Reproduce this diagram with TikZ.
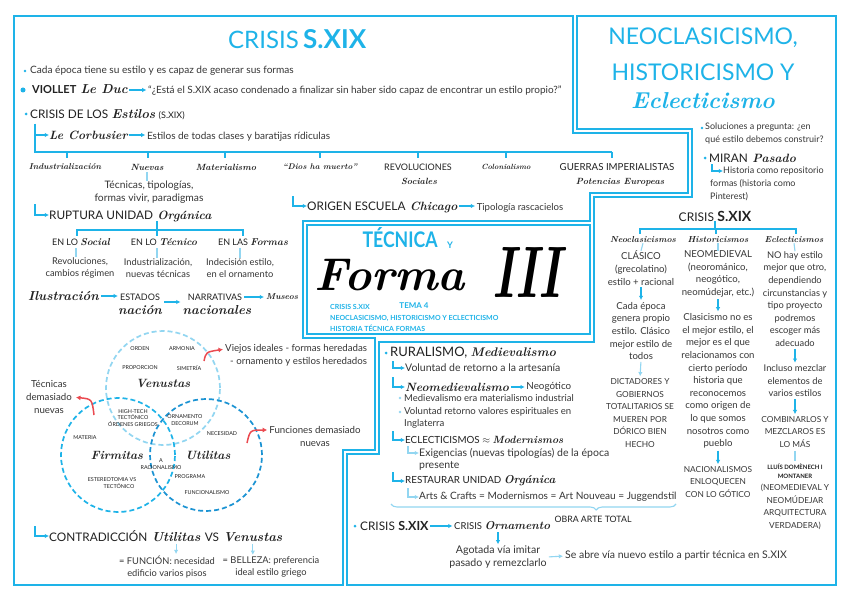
\documentclass[tikz,border=0pt]{standalone}
\usepackage{fontspec}
\usepackage{graphicx}
\usetikzlibrary{arrows.meta,decorations.pathreplacing,calc}
\newfontfamily\bodyf{Lato}
\newcommand\scrf{\rmfamily\bfseries\itshape}
\definecolor{cyanA}{HTML}{1EB3E8}
\definecolor{cyanL}{HTML}{92D6F1}
\definecolor{cyanD}{HTML}{1B93D3}
\definecolor{ink}{HTML}{222222}
\definecolor{gry}{HTML}{363636}
\definecolor{redA}{HTML}{EB4A50}
\tikzset{
 frm/.style={draw=cyanA,line width=1.8pt,line join=miter},
 bt/.style={font=\bodyf\fontsize{9.3}{12.4}\selectfont,text=gry,inner sep=0pt},
 bb/.style={bt,font=\bodyf\fontsize{10.3}{12.4}\selectfont},
 ct/.style={bt,align=center,font=\bodyf\fontsize{9.6}{12.6}\selectfont},
 cct/.style={bt,align=center,font=\bodyf\fontsize{8.3}{12.6}\selectfont},
 cp/.style={font=\bodyf\fontsize{11.8}{13}\selectfont,text=ink,inner sep=0pt},
 cps/.style={font=\bodyf\fontsize{9}{12.4}\selectfont,text=ink,inner sep=0pt},
 sr/.style={font=\scrf\fontsize{12}{13}\selectfont,text=ink,inner sep=0pt},
 srs/.style={font=\scrf\fontsize{9}{10}\selectfont,text=ink,inner sep=0pt},
 ar/.style={draw=cyanA,line width=1.1pt,-{Latex[length=4.2pt,width=4.4pt]}},
 arl/.style={draw=cyanL,line width=1.1pt,-{Latex[length=4.2pt,width=4.4pt]}},
 ln/.style={draw=cyanA,line width=1.3pt},
 lnl/.style={draw=cyanL,line width=1.1pt},
 bu/.style={circle,fill=cyanA,inner sep=0pt,minimum size=3pt},
 bul/.style={circle,fill=cyanL,inner sep=0pt,minimum size=2.6pt},
 vt/.style={font=\bodyf\fontsize{5.4}{6.6}\selectfont,text=ink,inner sep=0pt,align=center},
 vn/.style={font=\scrf\fontsize{12}{12}\selectfont,text=ink,inner sep=0pt},
 ra/.style={draw=redA,line width=1.5pt,-{Latex[length=4.5pt,width=5pt]}},
 ctit/.style={font=\bodyf\bfseries\fontsize{7}{8}\selectfont,text=cyanA,inner sep=0pt,anchor=west},
}
\begin{document}
\begin{tikzpicture}[x=1pt,y=-1pt]
\useasboundingbox (0,0) rectangle (848,599);
\fill[white] (0,0) rectangle (848,599);

% ---------- frames ----------
\draw[frm] (14,16) -- (573,16) -- (573,133) -- (688,133) -- (688,193) -- (590,193) -- (590,221) -- (303,221) -- (303,338) -- (375,338) -- (375,450) -- (343,450) -- (343,585) -- (14,585) -- cycle;
\draw[frm] (577,16) -- (836,16) -- (836,585) -- (347,585) -- (347,454) -- (379,454) -- (379,342) -- (594,342) -- (594,197) -- (692,197) -- (692,129) -- (577,129) -- cycle;
\draw[frm] (307,225) rectangle (590,334);

% ---------- left frame: CRISIS S.XIX ----------
\node[font=\bodyf\fontsize{24}{24}\selectfont,text=cyanA,inner sep=0pt,anchor=base west] (t1a) at (228,49) {CRISIS};
\node[font=\bodyf\bfseries\fontsize{26}{26}\selectfont,text=cyanA,inner sep=0pt,anchor=base west] (t1b) at ([xshift=4pt]t1a.base east) {S.XIX};

\node[bu,minimum size=2.6pt] (b1) at (25,71) {};
\node[bb,font=\bodyf\fontsize{10.1}{12}\selectfont,anchor=west] (cada) at (30,71) {Cada época tiene su estilo y es capaz de generar sus formas};

\node[bu,minimum size=5pt] (b2) at (23,90) {};
\node[cp,font=\bodyf\bfseries\fontsize{11}{12}\selectfont,anchor=west] (viol) at (32,90) {VIOLLET};
\node[sr,font=\scrf\fontsize{13}{13}\selectfont,anchor=base west] (leduc) at ([xshift=4pt]viol.base east) {Le Duc};
\node[bt,font=\bodyf\fontsize{10}{12}\selectfont,anchor=base west] (quote) at ([xshift=20pt]leduc.base east) {“¿Está el S.XIX acaso condenado a finalizar sin haber sido capaz de encontrar un estilo propio?”};
\draw[ar,shorten <=1.5pt,shorten >=1.5pt] (leduc.east |- viol.east) -- (quote.west |- viol.east);

\node[bu] (b3) at (26,114) {};
\node[cp,anchor=west] (cdl) at (30,114) {CRISIS DE LOS};
\node[sr,font=\scrf\fontsize{13}{13}\selectfont,anchor=base west] (estil) at ([xshift=3pt]cdl.base east) {Estilos};
\node[cps,anchor=base west] (sxix1) at ([xshift=3pt]estil.base east) {(S.XIX)};

\coordinate (e1) at (35,124);
\node[sr,anchor=west] (lecor) at (49,135) {Le Corbusier};
\node[bt,font=\bodyf\fontsize{10}{12}\selectfont,anchor=base west] (estil2) at ([xshift=19pt]lecor.base east) {Estilos de todas clases y baratijas rídiculas};
\draw[ar] (e1) |- (lecor.west);
\draw[ar,shorten <=1.5pt,shorten >=1.5pt] (lecor.east) -- (lecor.east -| estil2.west);

% category bracket
\draw[ln] (e1) -- (35,152) -- (612,152);
\foreach \xx in {67,148,225,320,418,506,612} \draw[ln] (\xx,152) -- (\xx,158);
\node[srs,font=\scrf\fontsize{8.5}{10}\selectfont] (c1) at (65,167) {Industrialización};
\node[srs] (c2) at (147,167) {Nuevas};
\node[srs] (c3) at (226,167) {Materialismo};
\node[srs,font=\scrf\fontsize{8.2}{10}\selectfont] (c4) at (320,167) {“Dios ha muerto”};
\node[cps] (c5) at (418,167) {REVOLUCIONES};
\node[srs] (c5b) at (419,181) {Sociales};
\node[srs,font=\scrf\fontsize{7.5}{8}\selectfont] (c6) at (506,167) {Colonialismo};
\node[cps,font=\bodyf\fontsize{9.7}{12}\selectfont] (c7) at (617,167) {GUERRAS IMPERIALISTAS};
\node[srs] (c7b) at (620,182) {Potencias Europeas};
\node[bb,align=center] (nuev) at (149,192) {Técnicas, tipologías,\\formas vivir, paradigmas};
\draw[lnl] ([yshift=-1.5pt]c2.south) -- (c2.south |- nuev.north);

% origen escuela chicago
\coordinate (e2) at (293,196);
\node[cp,anchor=west] (orig) at (307,206) {ORIGEN ESCUELA};
\node[sr,anchor=base west] (chic) at ([xshift=4pt]orig.base east) {Chicago};
\node[bt,font=\bodyf\fontsize{9.6}{12}\selectfont,anchor=base west] (tipo) at ([xshift=19pt]chic.base east) {Tipología rascacielos};
\draw[ar] (e2) |- (orig.west);
\draw[ar,shorten <=1.5pt,shorten >=1.5pt] (chic.east |- orig.east) -- (tipo.west |- orig.east);

% ruptura unidad organica
\coordinate (e3) at (35,204);
\node[cp,anchor=west] (rupt) at (49,215) {RUPTURA UNIDAD};
\node[sr,anchor=base west] (organ) at ([xshift=4pt]rupt.base east) {Orgánica};
\draw[ar] (e3) |- (rupt.west);
\draw[ln] (157,221) -- (157,230);
\draw[ln] (77,230) -- (243,230);
\foreach \xx in {77,157,243} \draw[ln] (\xx,229) -- (\xx,236);
\node[cps] (s1) at (81,242) {EN LO {\scrf\fontsize{10}{10}\selectfont Social}};
\node[cps] (s2) at (164,242) {EN LO {\scrf\fontsize{10}{10}\selectfont Técnico}};
\node[cps] (s3) at (253,242) {EN LAS {\scrf\fontsize{10}{10}\selectfont Formas}};
\node[bt,align=center] (r1) at (80,268) {Revoluciones,\\cambios régimen};
\node[bt,align=center] (r2) at (158,268) {Industrialización,\\nuevas técnicas};
\node[bt,align=center] (r3) at (240,268) {Indecisión estilo,\\en el ornamento};
\draw[lnl] (76,248) -- (r1.north -| 76,0);
\draw[lnl] (157,248) -- (r2.north -| 157,0);
\draw[lnl] (240,248) -- (r3.north);

% ilustracion row
\node[sr,font=\scrf\fontsize{13}{13}\selectfont,anchor=west] (ilu) at (28,296) {Ilustración};
\node[cps] (est) at (140,297) {ESTADOS};
\node[sr,font=\scrf\fontsize{13}{13}\selectfont] (nac) at (140,310) {nación};
\node[cps] (narr) at (215,297) {NARRATIVAS};
\node[sr,font=\scrf\fontsize{13}{13}\selectfont] (nacs) at (217,310) {nacionales};
\node[srs,font=\scrf\fontsize{8.5}{10}\selectfont,anchor=west] (mus) at (266,297) {Museos};
\draw[ar,shorten <=2pt,shorten >=2pt] (ilu.east) -- (ilu.east -| est.west);
\draw[ar,shorten <=2pt,shorten >=2pt] (nac.north east |- 0,302) -- (nacs.north west |- 0,302);
\draw[ar,shorten <=2pt,shorten >=2pt] (narr.east) -- (mus.west |- narr.east);

% ---------- Venn ----------
\draw[cyanL,line width=1.7pt,dash pattern=on 5pt off 3pt] (163,388) circle [radius=57pt];
\draw[cyanA,line width=1.7pt,dash pattern=on 5pt off 3pt] (118,455) circle [radius=57pt];
\draw[cyanD,line width=1.7pt,dash pattern=on 5pt off 3pt] (206,455) circle [radius=56pt];
\node[vt] (v1) at (140,349) {ORDEN};
\node[vt] (v2) at (182,349) {ARMONIA};
\node[vt] (v3) at (140,368) {PROPORCION};
\node[vt] (v4) at (189,368) {SIMETRÍA};
\node[vn] (ven) at (163,383) {Venustas};
\node[vt] (v5) at (133,418) {HIGH-TECH\\TECTÓNICO\\ÓRDENES GRIEGOS};
\node[vt] (v6) at (185,420) {ORNAMENTO\\DECORUM};
\node[vt] (v7) at (222,434) {NECESIDAD};
\node[vt] (v8) at (85,438) {MATERIA};
\node[vn] (fir) at (117,455) {Firmitas};
\node[vn] (uti) at (208,455) {Utilitas};
\node[vt] (v9) at (161,464) {A\\RACIONALISMO};
\node[vt] (v10) at (190,477) {PROGRAMA};
\node[vt] (v11) at (112,483) {ESTEREOTOMIA VS\\\hspace*{14pt}TECTÓNICO};
\node[vt] (v12) at (207,493) {FUNCIONALISMO};

\node[bt,font=\bodyf\fontsize{9.7}{12}\selectfont,anchor=west] (vj1) at (225,349) {Viejos ideales - formas heredadas};
\node[bt,font=\bodyf\fontsize{9.7}{12}\selectfont,anchor=west] (vj2) at (230,362) {- ornamento y estilos heredados};
\draw[ra,shorten >=2pt] (204,361) .. controls (206,352) .. (vj1.west);
\node[bt,font=\bodyf\fontsize{9.7}{12.8}\selectfont,align=center] (tdn) at (49,397) {Técnicas\\demasiado\\nuevas};
\draw[ra,shorten >=4pt] (94,415) .. controls (92,399) .. (tdn.east);
\node[bt,font=\bodyf\fontsize{9.7}{13}\selectfont,align=center] (fdn) at (315,436) {Funciones demasiado\\nuevas};
\draw[ra,shorten >=2pt] (247,443) .. controls (250,430) .. ([yshift=6pt]fdn.west);

% contradiccion
\coordinate (e4) at (35,526);
\node[cp,anchor=west] (contr) at (49,536) {CONTRADICCIÓN};
\node[sr,font=\scrf\fontsize{13}{13}\selectfont,anchor=base west] (util2) at ([xshift=4pt]contr.base east) {Utilitas};
\node[cp,anchor=base west] (vs) at ([xshift=4pt]util2.base east) {VS};
\node[sr,font=\scrf\fontsize{13}{13}\selectfont,anchor=base west] (ven2) at ([xshift=4pt]vs.base east) {Venustas};
\draw[ar] (e4) |- (contr.west);
\node[bt,align=center] (fun) at (167,567) {= FUNCIÓN: necesidad\\edificio varios pisos};
\node[bt,align=center] (bel) at (271,567) {= BELLEZA: preferencia\\ideal estilo griego};
\draw[arl,shorten <=2pt,shorten >=1.5pt] (util2.south) -- (util2.south |- fun.north);
\draw[arl,shorten <=2pt,shorten >=1.5pt] (ven2.south) -- (ven2.south |- bel.north);

% ---------- center title ----------
\node[font=\bodyf\bfseries,text=cyanA,inner sep=0pt] (tec) at (400,238) {\resizebox{75pt}{20pt}{TÉCNICA}};
\node[font=\bodyf\bfseries\fontsize{9}{9}\selectfont,text=cyanA,inner sep=0pt] (yy) at (450,245) {Y};
\node[inner sep=0pt] (forma) at (390,275) {\resizebox{150pt}{!}{\scrf Forma}};
\node[inner sep=0pt] (iii) at (527,272) {\resizebox{68pt}{50pt}{\scrf III}};
\node[font=\bodyf\bfseries\fontsize{8}{8}\selectfont,text=cyanA,inner sep=0pt] (tema) at (414,306) {TEMA 4};
\node[ctit] (cs1) at (330,307) {CRISIS S.XIX};
\node[ctit] (cs2) at (330,318) {NEOCLASICISMO, HISTORICISMO Y ECLECTICISMO};
\node[ctit] (cs3) at (330,328) {HISTORIA TÉCNICA FORMAS};

% ---------- right frame ----------
\node[font=\bodyf\fontsize{23}{23}\selectfont,text=cyanA,inner sep=0pt] (neo1) at (703,38) {NEOCLASICISMO,};
\node[font=\bodyf\fontsize{23}{23}\selectfont,text=cyanA,inner sep=0pt] (neo2) at (703,72) {HISTORICISMO Y};
\node[font=\scrf\fontsize{23}{23}\selectfont,text=cyanA,inner sep=0pt] (neo3) at (703,101) {Eclecticismo};

\node[bu,minimum size=2.6pt] (b4) at (702,128) {};
\node[bt,anchor=north west,align=left,font=\bodyf\fontsize{9}{13}\selectfont] (sol) at (705,123) {Soluciones a pregunta: ¿en\\qué estilo debemos construir?};
\node[bu] (b5) at (705,158) {};
\node[cp,anchor=west] (mir) at (709,158) {MIRAN};
\node[sr,anchor=base west] (pas) at ([xshift=4pt]mir.base east) {Pasado};
\coordinate (e5) at (712,164);
\node[bt,anchor=west,font=\bodyf\fontsize{9}{13}\selectfont] (hist) at (723,171) {Historia como repositorio};
\draw[ar] (e5) |- (hist.west);
\node[bt,anchor=north west,align=left,font=\bodyf\fontsize{9}{13}\selectfont] (hist2) at (710,179) {formas (historia como\\Pinterest)};

\node[inner sep=0pt,text=ink] (cr2) at (715,216) {{\bodyf\fontsize{12}{12}\selectfont CRISIS} {\bodyf\bfseries\fontsize{14}{14}\selectfont S.XIX}};
\draw[ln] (cr2.south) -- (cr2.south |- 0,229);
\draw[ln] (640,229) -- (796,229);
\foreach \xx in {640,716,796} \draw[ln] (\xx,228) -- (\xx,234);
\node[srs,font=\scrf\fontsize{8.7}{10}\selectfont] (h1) at (643,240) {Neoclasicismos};
\node[srs,font=\scrf\fontsize{8.7}{10}\selectfont] (h2) at (718,240) {Historicismos};
\node[srs,font=\scrf\fontsize{8.7}{10}\selectfont] (h3) at (794,240) {Eclecticismos};

\node[ct] (n1) at (641,268) {CLÁSICO\\(grecolatino)\\estilo + racional};
\node[ct] (n2) at (641,331) {Cada época\\genera propio\\estilo. Clásico\\mejor estilo de\\todos};
\node[cct] (n3) at (640,413) {DICTADORES Y\\GOBIERNOS\\TOTALITARIOS SE\\MUEREN POR\\DÓRICO BIEN\\HECHO};
\draw[lnl] (h1.south) -- (n1.north);
\draw[ar,shorten <=2pt,shorten >=2pt] (n1.south) -- (n2.north);
\draw[arl,shorten <=2pt,shorten >=2pt] (n2.south) -- (n3.north);

\node[ct] (m1) at (718,274) {NEOMEDIEVAL\\(neorománico,\\neogótico,\\neomúdejar, etc.)};
\node[ct] (m2) at (718,381) {Clasicismo no es\\el mejor estilo, el\\mejor es el que\\relacionamos con\\cierto período\\historia que\\reconocemos\\como origen de\\lo que somos\\nosotros como\\pueblo};
\node[cct] (m3) at (718,482) {NACIONALISMOS\\ENLOQUECEN\\CON LO GÓTICO};
\draw[lnl] (h2.south) -- (m1.north);
\draw[ar,shorten <=2pt,shorten >=2pt] (m1.south) -- (m2.north);
\draw[ar,shorten <=2pt,shorten >=2pt] (m2.south) -- (m3.north);

\node[ct,font=\bodyf\fontsize{9.3}{12.6}\selectfont] (k1) at (795,299) {NO hay estilo\\mejor que otro,\\dependiendo\\circunstancias y\\tipo proyecto\\podremos\\escoger más\\adecuado};
\node[ct,font=\bodyf\fontsize{9.3}{12.6}\selectfont] (k2) at (795,381) {Incluso mezclar\\elementos de\\varios estilos};
\node[cct] (k3) at (795,432) {COMBINARLOS Y\\MEZCLAROS ES\\LO MÁS};
\node[bt,align=center,font=\bodyf\bfseries\fontsize{6}{9}\selectfont,text=ink] (k4) at (795,471) {LLUÍS DOMÈNECH I\\MONTANER};
\node[cct] (k5) at (795,507) {(NEOMEDIEVAL Y\\NEOMÚDEJAR\\ARQUITECTURA\\VERDADERA)};
\draw[lnl] (h3.south) -- (k1.north);
\draw[ar,shorten <=2pt,shorten >=2pt] (k1.south) -- (k2.north);
\draw[ar,shorten <=2pt,shorten >=2pt] (k2.south) -- (k3.north);
\draw[lnl,shorten <=3pt,shorten >=2pt] (k3.south) -- (k4.north);

% ---------- bottom middle ----------
\node[bu] (b6) at (386,353) {};
\node[cp,font=\bodyf\fontsize{13}{13}\selectfont,anchor=west] (rur) at (390,353) {RURALISMO,};
\node[sr,font=\scrf\fontsize{12.5}{13}\selectfont,anchor=base west] (med) at ([xshift=3pt]rur.base east) {Medievalismo};
\coordinate (e6) at (393,361);
\node[bt,font=\bodyf\fontsize{10.5}{12}\selectfont,anchor=west] (vol) at (405,368) {Voluntad de retorno a la artesanía};
\draw[ar] (e6) |- (vol.west);
\coordinate (e7) at (393,377);
\node[sr,anchor=west] (neom) at (405,387) {Neomedievalismo};
\node[bt,font=\bodyf\fontsize{9.8}{12}\selectfont,anchor=west] (neog) at ([xshift=17pt]neom.east) {Neogótico};
\draw[ar] (e7) |- (neom.west);
\draw[ar,shorten <=1.5pt,shorten >=1.5pt] (neom.east) -- (neog.west);
\node[bul] (b7) at (400,398) {};
\node[bt,font=\bodyf\fontsize{9.5}{12}\selectfont,anchor=west] (mat) at (404,398) {Medievalismo era materialismo industrial};
\node[bul] (b8) at (400,412) {};
\node[bt,font=\bodyf\fontsize{9.6}{12}\selectfont,anchor=west] (volr) at (404,412) {Voluntad retorno valores espirituales en};
\node[bt,font=\bodyf\fontsize{9.6}{12}\selectfont,anchor=west] (ingl) at (404,424) {Inglaterra};
\coordinate (e8) at (393,431);
\node[cps,font=\bodyf\fontsize{9.8}{12}\selectfont,anchor=west] (ecl) at (405,440) {ECLECTICISMOS $\approx$ {\scrf\fontsize{10.5}{12}\selectfont Modernismos}};
\draw[ar] (e8) |- (ecl.west);
\coordinate (e9) at (408,446);
\node[bt,font=\bodyf\fontsize{10.5}{12}\selectfont,anchor=west] (exig) at (419,453) {Exigencias (nuevas tipologías) de la época};
\node[bt,font=\bodyf\fontsize{10.5}{12}\selectfont,anchor=west] (pres) at (419,466) {presente};
\draw[arl] (e9) |- (exig.west);
\coordinate (e10) at (393,472);
\node[cps,font=\bodyf\fontsize{9.8}{12}\selectfont,anchor=west] (rest) at (405,481) {RESTAURAR UNIDAD {\scrf\fontsize{11.5}{12}\selectfont Orgánica}};
\draw[ar] (e10) |- (rest.west);
\coordinate (e11) at (408,488);
\node[bt,anchor=west,font=\bodyf\fontsize{10.1}{12}\selectfont] (arts) at (419,497) {Arts \& Crafts = Modernismos = Art Nouveau = Juggendstil};
\draw[arl] (e11) |- (arts.west);
\draw[lnl,decorate,decoration={brace,amplitude=6pt,aspect=0.28}] (676,504) -- (391,504);
\node[cps,font=\bodyf\fontsize{8.8}{12}\selectfont] (obra) at (593,519) {OBRA ARTE TOTAL};

\node[bu] (b9) at (355,526) {};
\node[cp,anchor=west] (cr3) at (360,526) {CRISIS};
\node[font=\bodyf\bfseries\fontsize{12.5}{13}\selectfont,text=ink,inner sep=0pt,anchor=base west] (sx3) at ([xshift=3pt]cr3.base east) {S.XIX};
\node[cps,font=\bodyf\fontsize{9.5}{12}\selectfont,anchor=west] (cro) at (454,526) {CRISIS {\scrf\fontsize{11.5}{12}\selectfont Ornamento}};
\draw[ar,shorten <=1pt,shorten >=1.5pt] (sx3.east |- cr3.east) -- (cro.west);
\node[bt,font=\bodyf\fontsize{10.6}{12.4}\selectfont,align=center] (ago) at (498,557) {Agotada vía imitar\\pasado y remezclarlo};
\draw[ar,shorten <=2pt,shorten >=1.5pt] (ago.north |- cro.south) -- (ago.north);
\node[bt,font=\bodyf\fontsize{10.5}{12}\selectfont,anchor=west] (seab) at (565,556) {Se abre vía nuevo estilo a partir técnica en S.XIX};
\draw[arl,shorten <=2pt,shorten >=2pt] (ago.east) -- (seab.west);
\end{tikzpicture}
\end{document}
